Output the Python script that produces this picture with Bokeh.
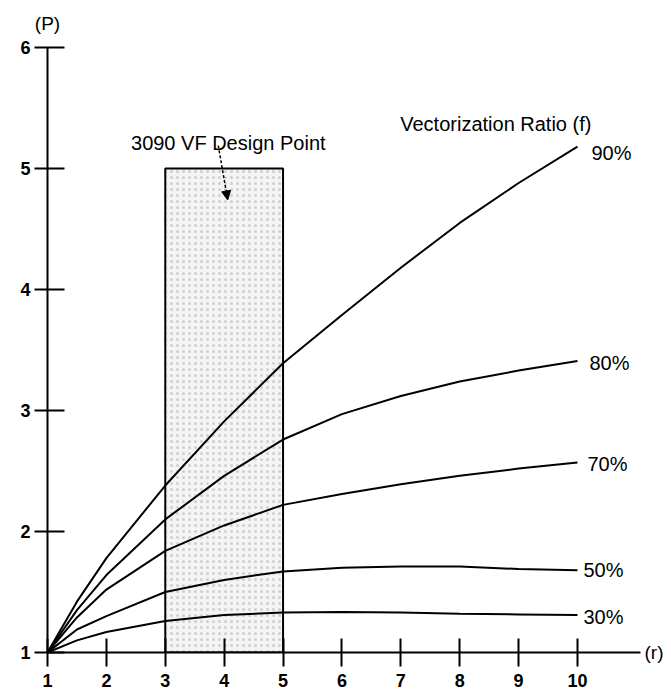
from bokeh.plotting import figure
from bokeh.models import Arrow, NormalHead, FixedTicker, ColumnDataSource, LinearAxis
from bokeh.core.properties import value
from bokeh.embed import file_html
from bokeh.resources import INLINE

# ---- data ----
r = [1, 1.5, 2, 3, 4, 5, 6, 7, 8, 9, 10]
p90 = [1.0, 1.42, 1.78, 2.38, 2.91, 3.39, 3.79, 4.18, 4.55, 4.88, 5.18]
p80 = [1.0, 1.35, 1.64, 2.10, 2.46, 2.76, 2.97, 3.12, 3.24, 3.33, 3.41]
p70 = [1.0, 1.29, 1.52, 1.84, 2.05, 2.22, 2.31, 2.39, 2.46, 2.52, 2.57]
p50 = [1.0, 1.19, 1.30, 1.50, 1.60, 1.67, 1.70, 1.71, 1.71, 1.69, 1.68]
p30 = [1.0, 1.10, 1.17, 1.26, 1.31, 1.33, 1.335, 1.33, 1.32, 1.315, 1.31]
series_labels = ["90%", "80%", "70%", "50%", "30%"]
x_ticks = [1, 2, 3, 4, 5, 6, 7, 8, 9, 10]
y_ticks = [1, 2, 3, 4, 5, 6]
design_r = [3, 5]
design_p = [1, 5]

FONT = "Liberation Sans"
TICK_FS = "18px"
FS = "20px"

p = figure(frame_width=593, frame_height=605, x_range=(1, 11.07), y_range=(1, 6),
           output_backend="svg", toolbar_location=None,
           min_border_left=47, min_border_top=47, min_border_right=10, min_border_bottom=30)
p.outline_line_color = None
p.grid.visible = False
p.background_fill_color = "white"

for ax, ticks, tin, tout, so in ((p.xaxis[0], x_ticks, 14, 14, 7), (p.yaxis[0], y_ticks, 17, 13, 4)):
    ax.ticker = FixedTicker(ticks=ticks)
    ax.minor_tick_line_color = None
    ax.axis_line_width = 2
    ax.axis_line_color = "black"
    ax.major_tick_line_width = 2
    ax.major_tick_line_color = "black"
    ax.major_tick_in = tin
    ax.major_tick_out = tout
    ax.major_label_text_font = FONT
    ax.major_label_text_font_size = TICK_FS
    ax.major_label_text_font_style = "bold"
    ax.major_label_text_color = "black"
    ax.major_label_standoff = so

# axis name labels "(P)" above the y axis and "(r)" at the end of the x axis
for loc, ticks, name, standoff in (("above", [1], "(P)", 14), ("right", [1], "(r)", 4)):
    extra = LinearAxis(ticker=FixedTicker(ticks=ticks), major_label_overrides={1: name})
    extra.axis_line_color = None
    extra.major_tick_line_color = None
    extra.minor_tick_line_color = None
    extra.major_tick_in = 0
    extra.major_tick_out = 0
    extra.major_label_standoff = standoff
    extra.major_label_text_font = FONT
    extra.major_label_text_font_size = "19px"
    extra.major_label_text_color = "black"
    p.add_layout(extra, loc)

# design-point box
p.quad(left=[design_r[0]], right=[design_r[1]], bottom=[design_p[0]], top=[design_p[1]],
       fill_color="#f4f4f4", line_color="black", line_width=2,
       hatch_pattern=".", hatch_color="#999999", hatch_scale=6, hatch_weight=1, hatch_alpha=0.4)

curves = [p90, p80, p70, p50, p30]
for ys in curves:
    p.line(r, ys, line_color="black", line_width=2)

# series labels at curve ends
xoffs = [14, 12, 10, 6, 6]
yoffs = [6, 2, 1, 0, 2]
src = ColumnDataSource(dict(x=[r[-1]] * 5, y=[c[-1] for c in curves], t=series_labels,
                            xo=xoffs, yo=yoffs))
p.text(x="x", y="y", text="t", x_offset="xo", y_offset="yo", source=src,
       text_font=value(FONT), text_font_size=FS, text_baseline="middle", text_align="left",
       text_color="black")

p.text(x=[6.99], y=[5.37], text=["Vectorization Ratio (f)"], text_font=value(FONT),
       text_font_size=FS, text_baseline="alphabetic", text_align="left", text_color="black")
p.text(x=[4.07], y=[5.21], text=["3090 VF Design Point"], text_font=value(FONT),
       text_font_size=FS, text_baseline="alphabetic", text_align="center", text_color="black")

p.add_layout(Arrow(x_start=3.90, y_start=5.19, x_end=4.06, y_end=4.74,
                   line_color="black", line_width=1.5, line_dash="3 2",
                   end=NormalHead(size=9, fill_color="black", line_color="black")))

open("out.html", "w").write(file_html(p, INLINE))
